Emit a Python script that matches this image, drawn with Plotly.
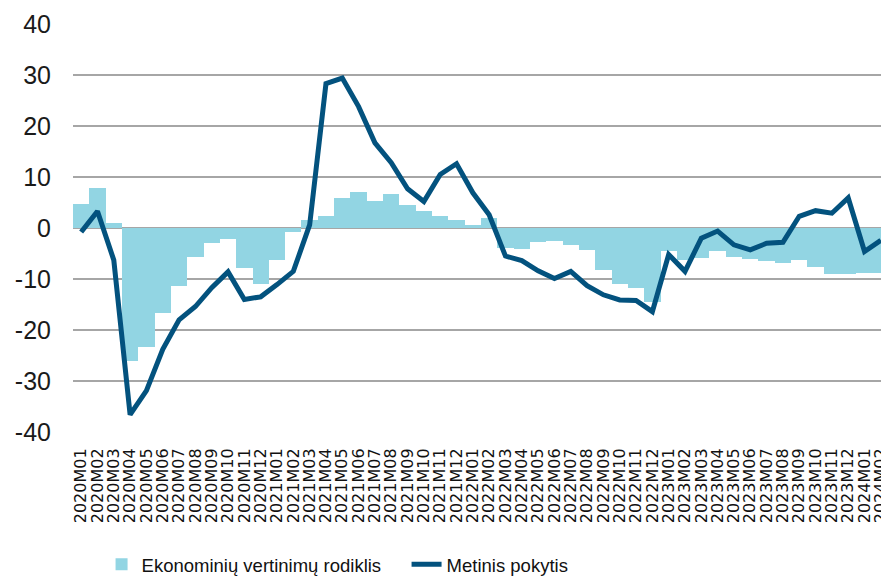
import plotly.graph_objects as go

months = [f"{y}M{m:02d}" for y in range(2020, 2025) for m in range(1, 13)][:50]

rodiklis = [
    4.8, 7.9, 1.0, -26.1, -23.4, -16.6, -11.3, -5.7, -2.9, -2.1, -7.9, -10.9,
    -6.3, -0.7, 1.6, 2.4, 5.9, 7.1, 5.3, 6.7, 4.6, 3.3, 2.4, 1.5,
    0.6, 1.9, -4.0, -4.1, -2.7, -2.6, -3.3, -4.3, -8.2, -11.0, -11.8, -14.6,
    -4.6, -6.2, -5.8, -4.6, -5.6, -6.1, -6.4, -6.9, -6.2, -7.7, -9.0, -9.0,
    -8.9, -8.8,
]

pokytis = [
    -0.8, 3.3, -6.3, -36.6, -31.9, -23.8, -18.0, -15.4, -11.7, -8.6, -14.0, -13.5,
    -11.1, -8.5, 0.6, 28.3, 29.4, 23.8, 16.7, 12.8, 7.7, 5.2, 10.5, 12.6,
    6.9, 2.6, -5.5, -6.4, -8.4, -9.9, -8.5, -11.3, -13.1, -14.1, -14.2, -16.4,
    -5.2, -8.5, -2.0, -0.6, -3.3, -4.3, -3.0, -2.8, 2.3, 3.4, 2.9, 5.9,
    -4.6, -2.4,
]

y_ticks = [-40, -30, -20, -10, 0, 10, 20, 30, 40]
y_tick_labels = ["-40", "-30", "-20", "-10", "0", "10", "20", "30", "40"]

fig = go.Figure()
fig.add_trace(go.Bar(
    x=months, y=rodiklis, name="Ekonominių vertinimų rodiklis",
    marker=dict(color="#92D5E3", line=dict(width=0)),
))
fig.add_trace(go.Scatter(
    x=months, y=pokytis, name="Metinis pokytis", mode="lines",
    line=dict(color="#03527E", width=5),
))

# page body has an 8px default margin, so the figure is 881x575
fig.update_layout(
    width=881, height=575,
    margin=dict(l=65, r=0, t=16, b=151, autoexpand=False),
    paper_bgcolor="white", plot_bgcolor="white",
    bargap=0,
    font=dict(family="Liberation Sans, Arial, sans-serif", color="#1a1a1a"),
    showlegend=True,
    legend=dict(
        orientation="h", x=0.035, y=-0.279, xanchor="left", yanchor="top",
        font=dict(size=18.5, family="Liberation Sans, Arial, sans-serif", color="#111"),
        entrywidth=260, itemwidth=30, tracegroupgap=0,
    ),
)
fig.update_xaxes(
    type="category", tickmode="array", tickvals=months, ticktext=months,
    tickangle=-90, tickfont=dict(size=16, family="DejaVu Sans", color="#111"),
    showgrid=False, showline=False, zeroline=False,
    ticks="outside", ticklen=9, tickcolor="rgba(0,0,0,0)",
    range=[-0.5, 49.5], automargin=False,
)
fig.update_yaxes(
    range=[-40, 40], tickmode="array", tickvals=y_ticks, ticktext=y_tick_labels,
    tickfont=dict(size=25, color="#1a1a1a"),
    showgrid=True, gridcolor="#A6A6A6", gridwidth=1.5,
    zeroline=True, zerolinecolor="#A6A6A6", zerolinewidth=1.5,
    ticks="", ticklabelstandoff=21,
    showline=False, automargin=False,
)

fig.write_html("out.html")
